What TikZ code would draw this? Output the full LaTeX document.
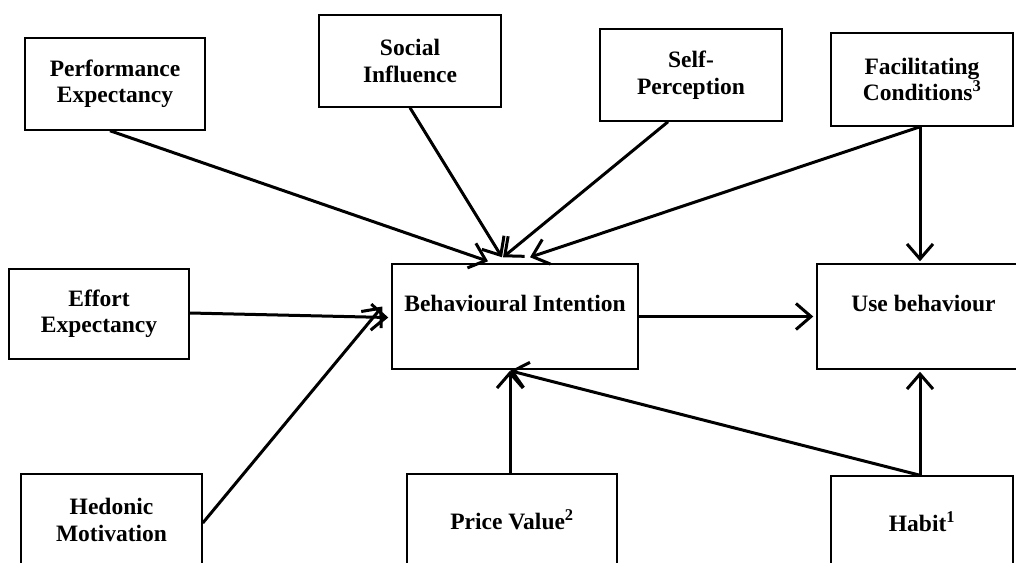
\documentclass[tikz,border=0pt]{standalone}
\usepackage{fontspec}
\setmainfont{Liberation Serif}
\usetikzlibrary{arrows.meta}
\begin{document}
\begin{tikzpicture}[x=1pt,y=-1pt,
  box/.style={draw, line width=1.5pt, rectangle, inner sep=0pt, align=center,
    font=\fontsize{23.5}{26.5}\selectfont\bfseries},
  boxtext/.style={font=\fontsize{23.5}{26.5}\selectfont\bfseries, inner sep=0pt},
  link/.style={line width=3pt, -{Straight Barb[length=15pt,width=26pt]}}]
\useasboundingbox (0,0) rectangle (1016,562);
\clip (0,0) rectangle (1016,562);

% constructs
\node[box, minimum width=180pt, minimum height=92pt] (pe) at (115,84) {Performance\\Expectancy};
\node[box, minimum width=182pt, minimum height=92pt] (si) at (410,61) {Social\\Influence};
\node[box, minimum width=182pt, minimum height=92pt] (sp) at (691,75) {Self-\\Perception};
\node[box, minimum width=182pt, minimum height=93pt] (fc) at (922,79.5) {Facilitating\\Conditions\textsuperscript{3}};
\node[box, minimum width=180pt, minimum height=90pt] (ee) at (99,314) {Effort\\Expectancy};
\node[box, minimum width=181pt, minimum height=92pt] (hm) at (111.5,520) {Hedonic\\Motivation};
\node[box, minimum width=246pt, minimum height=105pt,
  label={[boxtext, yshift=13.5pt]center:Behavioural Intention}] (bi) at (515,316.5) {};
\node[box, minimum width=213pt, minimum height=105pt,
  label={[boxtext, yshift=13.5pt]center:Use behaviour}] (ub) at (923.5,316.5) {};
\node[box, minimum width=210pt, minimum height=92pt] (pv) at (512,520) {Price Value\textsuperscript{2}};
\node[box, minimum width=182pt, minimum height=92pt] (hb) at (922,522) {Habit\textsuperscript{1}};

% paths into behavioural intention
\draw[link] ([xshift=-5pt]pe.south) -- ([xshift=-27pt,yshift=2pt]bi.north);
\draw[link] (si.south) -- ([xshift=-13pt,yshift=6pt]bi.north);
\draw[link] ([xshift=-23pt]sp.south) -- ([xshift=-12pt,yshift=6pt]bi.north);
\draw[link] ([xshift=-2pt]fc.south) -- ([xshift=15pt,yshift=6pt]bi.north);
\draw[link] ([yshift=1pt]ee.east) -- ([xshift=-3pt,yshift=-1pt]bi.west);
\draw[link] ([yshift=-3pt]hm.east) -- ([xshift=-9pt,yshift=10pt]bi.west);
\draw[link] ([xshift=-2pt]pv.north) -- ([xshift=-5pt,yshift=-1pt]bi.south);
\draw[link] ([xshift=-2pt]hb.north) -- ([xshift=-5pt,yshift=-1pt]bi.south);

% paths into use behaviour
\draw[link] (bi.east) -- ([xshift=-3pt]ub.west);
\draw[link] ([xshift=-2pt]fc.south) -- ([xshift=-3.5pt,yshift=2pt]ub.north);
\draw[link] ([xshift=-2pt]hb.north) -- ([xshift=-3.5pt,yshift=-2pt]ub.south);
\end{tikzpicture}
\end{document}
